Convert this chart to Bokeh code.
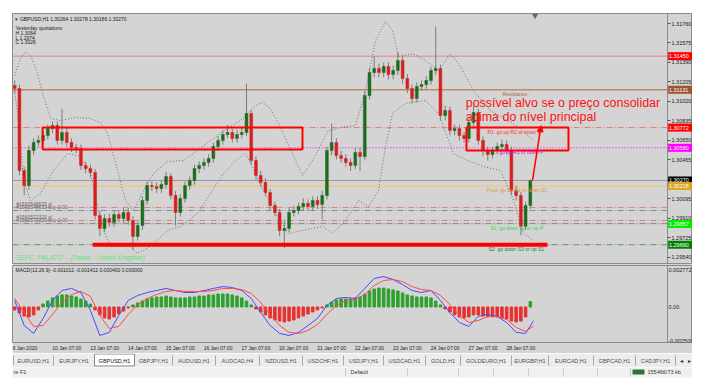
from bokeh.plotting import figure
from bokeh.models import (Range1d, FixedTicker, Arrow, NormalHead,
                          ColumnDataSource, NumeralTickFormatter, Spacer)
from bokeh.layouts import column, row
from bokeh.embed import file_html
from bokeh.resources import INLINE
from bokeh.core.properties import value

FONT = "Liberation Sans"
BG = "#d4d4d4"
FRAME = "#8c8c8c"

# ---------------- data ----------------
header_line = "\u25be GBPUSD,H1  1.30264 1.30278 1.30186 1.30270"
yesterday_lines = ["Yesterday quotations:", "H 1.3064", "L 1.2974", "C 1.3026"]
macd_header = "MACD(12,26,9) -0.001012 -0.001412 0.000400 0.000000"

first_open = 1.31172
closes = [
    1.31143, 1.30365, 1.30222, 1.30555, 1.30631, 1.30650, 1.30697, 1.30763, 1.30792, 1.30650,
    1.30726, 1.30631, 1.30583, 1.30574, 1.30413, 1.30384, 1.30346, 1.29938, 1.29815, 1.29909,
    1.29872, 1.29947, 1.29909, 1.29966, 1.29890, 1.29739, 1.29843, 1.30080, 1.30222, 1.30213,
    1.30194, 1.30232, 1.30308, 1.30128, 1.29966, 1.30099, 1.30222, 1.30270, 1.30384, 1.30413,
    1.30441, 1.30479, 1.30593, 1.30650, 1.30706, 1.30726, 1.30669, 1.30706, 1.30726, 1.30906,
    1.30460, 1.30318, 1.30251, 1.30156, 1.30033, 1.29966, 1.29795, 1.29815, 1.29966, 1.29985,
    1.30023, 1.30052, 1.30023, 1.30080, 1.30042, 1.30128, 1.30555, 1.30631, 1.30507, 1.30479,
    1.30441, 1.30413, 1.30536, 1.30498, 1.31077, 1.31295, 1.31333, 1.31295, 1.31352, 1.31276,
    1.31314, 1.31409, 1.31238, 1.31143, 1.31048, 1.31162, 1.31181, 1.31219, 1.31314, 1.31333,
    1.30887, 1.30934, 1.30744, 1.30763, 1.30697, 1.30669, 1.30820, 1.30915, 1.30650, 1.30555,
    1.30517, 1.30555, 1.30593, 1.30612, 1.30555, 1.30175, 1.30128, 1.29834, 1.30033, 1.30270,
]
highs = [
    1.3122, 1.3118, 1.3040, 1.3060, 1.3067, 1.3070, 1.3074, 1.3080, 1.3083, 1.3083,
    1.3095, 1.3077, 1.3067, 1.3062, 1.3061, 1.3045, 1.3042, 1.3038, 1.2998, 1.2995,
    1.2995, 1.2999, 1.2999, 1.3001, 1.3001, 1.2993, 1.2988, 1.3012, 1.3026, 1.3026,
    1.3025, 1.3027, 1.3035, 1.3034, 1.3017, 1.3014, 1.3026, 1.3031, 1.3042, 1.3045,
    1.3048, 1.3052, 1.3063, 1.3069, 1.3075, 1.3080, 1.3076, 1.3075, 1.3077, 1.3119,
    1.3094, 1.3050, 1.3036, 1.3029, 1.3019, 1.3007, 1.3000, 1.2990, 1.3001, 1.3003,
    1.3006, 1.3010, 1.3009, 1.3012, 1.3012, 1.3017, 1.3059, 1.3081, 1.3067, 1.3055,
    1.3052, 1.3048, 1.3058, 1.3058, 1.3112, 1.3134, 1.3145, 1.3138, 1.3139, 1.3139,
    1.3136, 1.3149, 1.3145, 1.3128, 1.3118, 1.3120, 1.3122, 1.3126, 1.3135, 1.3173,
    1.3137, 1.3098, 1.3097, 1.3080, 1.3080, 1.3073, 1.3086, 1.3098, 1.3095, 1.3069,
    1.3059, 1.3059, 1.3063, 1.3066, 1.3065, 1.3059, 1.3022, 1.3016, 1.3007, 1.3028,
]
lows = [
    1.3110, 1.3032, 1.3013, 1.3018, 1.3051, 1.3059, 1.3061, 1.3066, 1.3072, 1.3061,
    1.3061, 1.3059, 1.3054, 1.3053, 1.3037, 1.3034, 1.3030, 1.2990, 1.2974, 1.2978,
    1.2983, 1.2983, 1.2987, 1.2987, 1.2985, 1.2961, 1.2970, 1.2980, 1.3004, 1.3017,
    1.3015, 1.3015, 1.3019, 1.3009, 1.2984, 1.2993, 1.3006, 1.3018, 1.3023, 1.3034,
    1.3037, 1.3040, 1.3044, 1.3055, 1.3061, 1.3067, 1.3063, 1.3063, 1.3067, 1.3069,
    1.3042, 1.3028, 1.3021, 1.3012, 1.2999, 1.2993, 1.2974, 1.2963, 1.2978, 1.2993,
    1.2995, 1.2998, 1.2998, 1.2998, 1.3000, 1.2990, 1.3009, 1.3051, 1.3047, 1.3044,
    1.3040, 1.3036, 1.3038, 1.3036, 1.3046, 1.3104, 1.3125, 1.3125, 1.3125, 1.3123,
    1.3123, 1.3127, 1.3119, 1.3110, 1.3100, 1.3101, 1.3112, 1.3114, 1.3118, 1.3127,
    1.3084, 1.3084, 1.3070, 1.3070, 1.3065, 1.3063, 1.3063, 1.3078, 1.3061, 1.3050,
    1.3046, 1.3048, 1.3052, 1.3055, 1.3052, 1.3013, 1.3008, 1.2975, 1.2980, 1.3000,
]

bb_upper_x = [-24.1, -20.3, -17.1, -14.0, -10.1, -5.7, -1.3, 5.1, 14.6, 24.1, 30.4, 34.9,
              41.2, 46.3, 51.4, 57.7, 64.0, 72.9, 83.1, 91.9, 100.2, 112.9, 119.2, 128.7,
              133.2, 138.2, 143.3, 152.2, 158.5, 164.9, 175.0, 185.8, 192.1, 198.5, 204.8,
              211.2, 215.6, 219.4, 228.3, 236.5, 244.8, 252.4, 258.7, 267.0, 277.7, 294.9, 305.0]
bb_upper = [1.31266, 1.31428, 1.31494, 1.31456, 1.31314, 1.31067, 1.30858, 1.30839, 1.30868,
            1.30858, 1.30820, 1.30716, 1.30365, 1.30080, 1.29985, 1.30175, 1.30337, 1.30450,
            1.30460, 1.30555, 1.30650, 1.30782, 1.30839, 1.30982, 1.31010, 1.30953, 1.30811,
            1.30526, 1.30318, 1.30460, 1.30744, 1.30782, 1.30792, 1.31124, 1.31599, 1.31779,
            1.31693, 1.31447, 1.31475, 1.31409, 1.31314, 1.31475, 1.31352, 1.31124, 1.30934,
            1.30782, 1.30650]
bb_lower_x = [-24.1, -22.2, -18.4, -14.0, -7.6, 0.6, 9.5, 17.8, 24.1, 28.5, 32.3, 36.8, 49.5,
              53.9, 62.1, 72.9, 81.2, 91.9, 100.2, 108.4, 116.0, 122.4, 130.6, 141.4, 149.7,
              158.5, 171.2, 177.6, 185.8, 194.0, 200.4, 206.7, 211.2, 215.6, 223.8, 236.5,
              244.8, 254.3, 263.2, 273.3, 284.1, 292.4, 298.7, 305.0]
bb_lower = [1.31124, 1.30906, 1.30270, 1.30080, 1.30147, 1.30365, 1.30526, 1.30498, 1.30337,
            1.30023, 1.29795, 1.29644, 1.29644, 1.29577, 1.29644, 1.29795, 1.29834, 1.29957,
            1.30147, 1.30337, 1.30460, 1.30526, 1.30270, 1.29957, 1.29767, 1.29795, 1.29834,
            1.29767, 1.29890, 1.30080, 1.30023, 1.30175, 1.30593, 1.30906, 1.31001, 1.31029,
            1.30906, 1.30526, 1.30460, 1.30403, 1.30365, 1.30080, 1.29767, 1.29701]

macd_hist = [
    -0.00022, -0.00044, -0.00067, -0.00074, -0.00059, -0.00022, 0.00022, 0.00044, 0.00067, 0.00081,
    0.00089, 0.00089, 0.00081, 0.00074, 0.00059, 0.00044, 0.00022, -0.00022, -0.00059, -0.00081,
    -0.00089, -0.00074, -0.00052, -0.00030, -0.00007, 0.00015, 0.00030, 0.00044, 0.00059, 0.00067,
    0.00074, 0.00074, 0.00081, 0.00074, 0.00067, 0.00067, 0.00067, 0.00074, 0.00074, 0.00081,
    0.00081, 0.00089, 0.00089, 0.00096, 0.00096, 0.00096, 0.00089, 0.00081, 0.00067, 0.00044,
    0.00015, -0.00015, -0.00037, -0.00059, -0.00081, -0.00096, -0.00104, -0.00111, -0.00104, -0.00096,
    -0.00081, -0.00067, -0.00052, -0.00037, -0.00022, -0.00007, 0.00015, 0.00037, 0.00052, 0.00059,
    0.00059, 0.00059, 0.00067, 0.00074, 0.00096, 0.00118, 0.00133, 0.00140, 0.00140, 0.00133,
    0.00126, 0.00118, 0.00104, 0.00089, 0.00081, 0.00074, 0.00074, 0.00074, 0.00067, 0.00044,
    0.00015, -0.00015, -0.00037, -0.00059, -0.00074, -0.00081, -0.00074, -0.00059, -0.00059, -0.00067,
    -0.00074, -0.00074, -0.00074, -0.00081, -0.00089, -0.00104, -0.00111, -0.00104, -0.00074, 0.00040,
]
macd_main = [
    0.00048, -0.00137, -0.00196, -0.00085, 0.00048, 0.00122, 0.00137, 0.00107, -0.00026, -0.00211,
    -0.00188, -0.00063, 0.00048, 0.00085, 0.00107, 0.00122, 0.00137, 0.00122, 0.00107, 0.00107,
    0.00122, 0.00137, 0.00151, 0.00144, 0.00122, 0.00063, -0.00041, -0.00137, -0.00196, -0.00211,
    -0.00188, -0.00137, -0.00085, 0.00011, 0.00063, 0.00070, 0.00063, 0.00137, 0.00211, 0.00225,
    0.00203, 0.00166, 0.00122, 0.00107, 0.00122, 0.00048, -0.00041, -0.00115, -0.00144, -0.00070,
    -0.00055, -0.00070, -0.00115, -0.00188, -0.00196, -0.00101,
]
macd_signal = [
    0.00063, -0.00041, -0.00144, -0.00137, -0.00055, 0.00033, 0.00092, 0.00115, 0.00078, -0.00063,
    -0.00159, -0.00144, -0.00055, 0.00018, 0.00063, 0.00092, 0.00115, 0.00122, 0.00115, 0.00115,
    0.00115, 0.00122, 0.00137, 0.00137, 0.00129, 0.00100, 0.00033, -0.00055, -0.00137, -0.00188,
    -0.00196, -0.00174, -0.00129, -0.00055, 0.00011, 0.00048, 0.00055, 0.00092, 0.00159, 0.00196,
    0.00203, 0.00188, 0.00151, 0.00129, 0.00122, 0.00085, 0.00018, -0.00063, -0.00115, -0.00100,
    -0.00070, -0.00070, -0.00092, -0.00152, -0.00181, -0.00141,
]

price_ticks = [1.31760, 1.31575, 1.31390, 1.31205, 1.31020, 1.30835, 1.30650, 1.30465,
               1.30280, 1.30095, 1.29910, 1.29725, 1.29540]
macd_ticks = [0.002772, 0.0, -0.0025]
macd_tick_labels = ["0.002772", "0.00", "-0.002500"]
date_labels = ["9 Jan 2020", "10 Jan 07:00", "13 Jan 07:00", "14 Jan 07:00", "15 Jan 07:00",
               "16 Jan 07:00", "17 Jan 07:00", "20 Jan 07:00", "21 Jan 07:00", "22 Jan 07:00",
               "23 Jan 07:00", "24 Jan 07:00", "27 Jan 07:00", "28 Jan 07:00"]

levels = [1.31450, 1.31131, 1.30772, 1.30580, 1.30270, 1.30218, 1.29857, 1.29660]
level_names = ["", "Resistance :", "R1: go up R2 or down P", "go up R1 or down P", "",
               "Pivot: go up R1 or down S1", "S1: go down S2 or up P", "S2: go down S3 or up S1"]
order_levels = [1.30014, 1.29985, 1.29890, 1.29862]
order_texts = ["#1660548633 sl", "#1660548633 buy 2.00", "#1660572320 sl", "#1660572320 buy 2.00"]
order_note = 'SEFC "PALATO" - (Palato - United Kingdom)'
note_line1 = "possível alvo se o preço consolidar"
note_line2 = "acima do nível principal"

tab_names = ["EURUSD,H1", "EURJPY,H1", "GBPUSD,H1", "GBPJPY,H1", "AUDUSD,H1", "AUDCAD,H4",
             "NZDUSD,H1", "USDCHF,H1", "USDJPY,H1", "USDCAD,H1", "GOLD,H1", "GOLDEURO,H1",
             "EURGBP,H1", "EURCAD,H1", "GBPCAD,H1", "CADJPY,H1"]
status_texts = ["re F1", "Default", "155466/73 kb"]

# ---------------- positions / styles ----------------
bar_x = [-24 + 3 * i for i in range(len(closes))]
macd_x = list(range(-24, 301, 6)) + [305]
date_ticks = [-18, 9, 33, 57, 81, 105, 129, 153, 177, 201, 225, 249, 273, 297]
X0, XAXIS, X1 = -25.4, 390.0, 405.85      # chart left edge, price-axis line, window edge

level_line_colors = ["#f08080", "#c08a64", "#f07070", "#ff00ff", "#9a9a9a", "#ebc99a", "#60d060", "#5a9a5a"]
level_dashes = ["solid", "solid", "6 2 1 2", "1 2", "solid", "solid", "1 2", "6 2 1 2"]
level_widths = [1, 1.5, 1, 1, 1, 2, 1, 1]
tag_colors = ["#ff0000", "#a0522d", "#ff0000", "#ff00ff", "#000000", "#daa520", "#00ee00", "#008000"]
name_colors = ["#000000", "#a86a4a", "#ff3030", "#e000e0", "#000000", "#d8a040", "#40d040", "#2e7d4e"]
name_x = [0, 285.4, 275.8, 283.4, 0, 275.2, 277.7, 276.5]
order_colors = ["#e08080", "#8c8c8c", "#e08080", "#8c8c8c"]


def style_value_axis(ax, tick_out):
    ax.fixed_location = XAXIS
    ax.axis_line_color = FRAME
    ax.major_tick_out = tick_out
    ax.major_tick_in = 0
    ax.minor_tick_out = 0
    ax.minor_tick_in = 0
    ax.major_tick_line_color = "#555555"
    ax.major_label_standoff = 1
    ax.major_label_text_font = FONT
    ax.major_label_text_font_size = "5.5px"
    ax.major_label_text_color = "#222222"


# ---------------- main price panel ----------------
p1 = figure(frame_width=680, frame_height=250,
            x_range=Range1d(X0, X1), y_range=Range1d(1.29482, 1.31855),
            toolbar_location=None, output_backend="svg",
            x_axis_location=None, y_axis_location="right",
            min_border_left=0, min_border_top=0, min_border_bottom=2, min_border_right=0,
            background_fill_color=BG, border_fill_color=BG, outline_line_color=FRAME)
p1.grid.visible = False
ya = p1.yaxis[0]
ya.ticker = FixedTicker(ticks=price_ticks)
ya.formatter = NumeralTickFormatter(format="0.00000")
style_value_axis(ya, 3)

# level lines (stop at the price axis)
n_lv = len(levels)
for price, col, dash, w in zip(levels, level_line_colors, level_dashes, level_widths):
    p1.line([X0, XAXIS], [price, price], line_color=col, line_dash=dash, line_width=w)
for price, col in zip(order_levels, order_colors):
    p1.line([X0, XAXIS], [price, price], line_color=col, line_dash="6 2 1 2", line_width=1)

# bollinger bands
p1.line(bb_upper_x, bb_upper, line_color="#6e6e6e", line_dash="1 2", line_width=1)
p1.line(bb_lower_x, bb_lower, line_color="#6e6e6e", line_dash="1 2", line_width=1)

# candles
opens = [first_open] + closes[:-1]
src = ColumnDataSource(dict(
    x=bar_x, h=highs, l=lows,
    top=[max(o, c) for o, c in zip(opens, closes)],
    bottom=[min(o, c) for o, c in zip(opens, closes)],
    color=["#1e6b1e" if c >= o else "#d42020" for o, c in zip(opens, closes)],
))
p1.segment(x0="x", y0="h", x1="x", y1="l", source=src, line_color="#7c7c7c", line_width=1)
p1.vbar(x="x", width=1.8, top="top", bottom="bottom", source=src,
        fill_color="color", line_color="color", line_width=0.5)

# drawn objects: zones, support line, arrow
zone_left = [-6.3, 262.5]
zone_right = [158.5, 327.2]
zone_top = [1.30773, 1.30773]
zone_bottom = [1.30564, 1.30555]
p1.quad(left=zone_left, right=zone_right, top=zone_top, bottom=zone_bottom,
        fill_alpha=0, line_color="#ff0000", line_width=2)
support_x = [25.4, 313.9]
p1.segment(x0=[support_x[0]], y0=[levels[-1]], x1=[support_x[1]], y1=[levels[-1]],
           line_color="#ff0000", line_width=4)
p1.add_layout(Arrow(end=NormalHead(size=6, fill_color="#ff0000", line_color="#ff0000"),
                    x_start=304.4, y_start=1.30270, x_end=309.8, y_end=1.30790,
                    line_color="#ff0000", line_width=1.5))

# level descriptions
idx = [i for i, n in enumerate(level_names) if n]
p1.text(x=[name_x[i] for i in idx], y=[levels[i] for i in idx],
        text=[level_names[i] for i in idx], text_color=[name_colors[i] for i in idx],
        text_font=value(FONT), text_font_size="5px", text_baseline="top", y_offset=1)

# order texts
p1.text(x=[-23.0] * 4, y=order_levels, text=order_texts, text_color="#6a6a6a",
        text_font=value(FONT), text_font_size="5px", text_baseline="bottom", y_offset=-0.5)
p1.text(x=[-23.0], y=[1.29535], text=[order_note], text_color="#66e07a",
        text_font=value(FONT), text_font_size="6.5px", text_font_style="italic",
        text_baseline="middle")

# header info
p1.text(x=[-23.5], y=[1.31807], text=[header_line], text_color="#202020",
        text_font=value(FONT), text_font_size="5px", text_baseline="middle")
p1.text(x=[-23.5] * 4, y=[1.31713, 1.31670, 1.31627, 1.31584], text=yesterday_lines,
        text_color="#202020", text_font=value(FONT), text_font_size="5px",
        text_baseline="middle")
p1.scatter(x=[306], y=[1.31836], marker="inverted_triangle", size=5,
           fill_color="#6a6a6a", line_color="#6a6a6a")

# red annotation
p1.text(x=[262.0, 262.0], y=[1.31010, 1.30877], text=[note_line1, note_line2],
        text_color="#ff1010", text_font=value(FONT), text_font_size="12.5px",
        text_baseline="middle")

# price tags on the axis
p1.rect(x=[(XAXIS + X1) / 2 + 0.2] * n_lv, y=levels, width=X1 - XAXIS - 0.4, height=8,
        height_units="screen", fill_color=tag_colors, line_color=None, level="overlay")
p1.text(x=[XAXIS + 0.9] * n_lv, y=levels, text=[f"{v:.5f}" for v in levels],
        text_color="white", text_font=value(FONT), text_font_size="5.5px",
        text_baseline="middle", level="overlay")

# ---------------- MACD panel ----------------
p2 = figure(frame_width=680, frame_height=77, x_range=p1.x_range,
            y_range=Range1d(-0.00263, 0.00307),
            toolbar_location=None, output_backend="svg", y_axis_location="right",
            min_border_left=0, min_border_top=0, min_border_right=0, min_border_bottom=9,
            background_fill_color=BG, border_fill_color=BG, outline_line_color=FRAME)
p2.grid.visible = False
my = p2.yaxis[0]
my.ticker = FixedTicker(ticks=macd_ticks)
my.major_label_overrides = dict(zip(macd_ticks, macd_tick_labels))
style_value_axis(my, 0)
mx = p2.xaxis[0]
mx.ticker = FixedTicker(ticks=date_ticks)
mx.major_label_overrides = dict(zip(date_ticks, date_labels))
mx.axis_line_color = None
mx.major_tick_out = 0
mx.major_tick_in = 0
mx.minor_tick_out = 0
mx.minor_tick_in = 0
mx.major_label_standoff = 2
mx.major_label_text_font = FONT
mx.major_label_text_font_size = "5px"
mx.major_label_text_color = "#222222"

p2.vbar(x=bar_x, width=1.6, top=macd_hist, bottom=0,
        color=["#2fa02f" if v >= 0 else "#e83030" for v in macd_hist])
p2.line(macd_x, macd_main, line_color="#4a4aff", line_width=1)
p2.line(macd_x, macd_signal, line_color="#ff4a4a", line_width=1)
p2.text(x=[-23.5], y=[0.00277], text=[macd_header], text_color="#202020",
        text_font=value(FONT), text_font_size="5px", text_baseline="middle")

# ---------------- tab bar / status bar ----------------
p3 = figure(width=680, height=35, x_range=Range1d(12, 692), y_range=Range1d(387, 352),
            toolbar_location=None, output_backend="svg", min_border=0,
            x_axis_location=None, y_axis_location=None,
            background_fill_color="white", border_fill_color="white", outline_line_color=None)
p3.grid.visible = False
tab_sep = [13, 53, 94, 134, 172, 215, 259, 302, 343, 383, 425, 460, 511, 548, 593, 635, 675]
tab_cx = [(a + b) / 2 for a, b in zip(tab_sep[:-1], tab_sep[1:])]
p3.quad(left=[12], right=[692], top=[352], bottom=[365.5], fill_color="#ececec", line_color=None)
p3.quad(left=[12], right=[692], top=[366], bottom=[376], fill_color="#f0f0f0", line_color=None)
p3.segment(x0=tab_sep, y0=[354] * len(tab_sep), x1=tab_sep, y1=[364] * len(tab_sep),
           line_color="#a8a8a8", line_width=1)
p3.quad(left=[94], right=[134], top=[352.5], bottom=[364.5], fill_color="white",
        line_color="#8a8a8a", line_width=1)
p3.text(x=tab_cx, y=[359] * len(tab_cx), text=tab_names, text_align="center",
        text_baseline="middle", text_font=value(FONT), text_font_size="5.5px",
        text_color=["#111111" if n == "GBPUSD,H1" else "#505050" for n in tab_names])
p3.text(x=[681, 689], y=[359, 359], text=["\u25c2", "\u25b8"], text_align="center",
        text_baseline="middle", text_font=value("DejaVu Sans"), text_font_size="6px",
        text_color="#303030")
stat_sep = [345, 407, 458, 493, 528, 563, 597, 630]
p3.segment(x0=stat_sep, y0=[367] * len(stat_sep), x1=stat_sep, y1=[375] * len(stat_sep),
           line_color="#c8c8c8", line_width=1)
p3.quad(left=[632], right=[644], top=[368], bottom=[373], fill_color="#2f6f3f", line_color=None)
p3.text(x=[13, 350, 647], y=[370.5] * 3, text=status_texts, text_baseline="middle",
        text_font=value(FONT), text_font_size="5.5px", text_color="#303030")

layout = column(Spacer(width=705, height=13),
                row(Spacer(width=12, height=370), column(p1, p2, p3)))

open("out.html", "w").write(file_html(layout, INLINE))
